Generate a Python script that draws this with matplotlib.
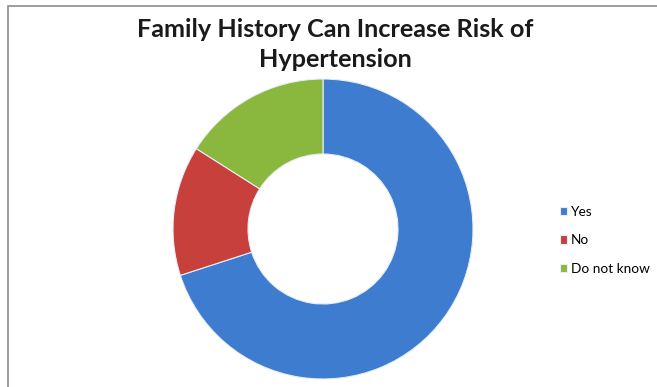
import matplotlib
matplotlib.use("Agg")
import matplotlib.pyplot as plt
from matplotlib.patches import Rectangle

# Survey answers (percent of respondents)
categories = ["Yes", "No", "Do not know"]
shares = [70, 14, 16]
colors = ["#3D7CCE", "#C8403C", "#8AB83F"]
title = "Family History Can Increase Risk of\nHypertension"

W, H = 657, 387
fig = plt.figure(figsize=(W / 100, H / 100), dpi=100)
ax = fig.add_axes([0, 0, 1, 1])

wedges, _ = ax.pie(
    shares,
    colors=colors,
    startangle=90,
    counterclock=False,
    radius=150,
    center=(323, H - 229),
    wedgeprops=dict(width=75, edgecolor="#E8EEF6", linewidth=0.8),
)
ax.set_xlim(0, W)
ax.set_ylim(0, H)
ax.set_aspect("equal")
ax.axis("off")

# chart area frame
ax.add_patch(Rectangle((7.5, -10), W, H - 5.5 + 10, fill=False,
                       edgecolor="#8C8C8C", linewidth=1.2, clip_on=False))

ax.text(335, H - 44.5, title, ha="center", va="center", fontsize=18.2,
        fontweight="bold", family="Lato", color="#1A1A1A", linespacing=1.42)

ax.legend(wedges, categories, loc="upper left",
          bbox_to_anchor=(560 / W, 1 - 206 / H), frameon=False,
          prop={"family": "Lato", "size": 9.8},
          handlelength=0.55, handleheight=0.55, handletextpad=0.25,
          labelspacing=1.2, borderaxespad=0, borderpad=0)

fig.savefig("out.png", dpi=100, facecolor="white")
